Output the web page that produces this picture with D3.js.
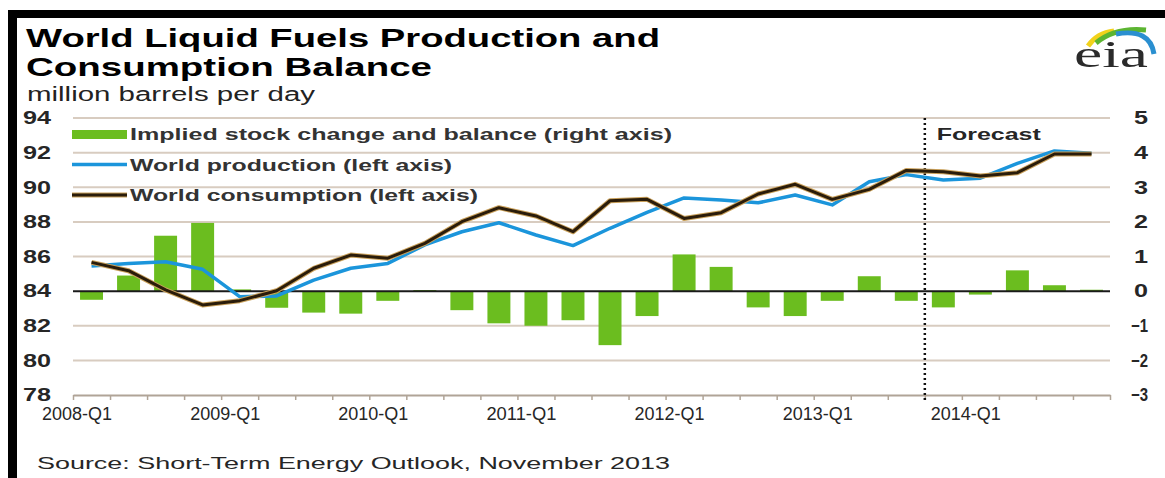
<!DOCTYPE html>
<html lang="en">
<head>
  <meta charset="UTF-8">
  <title>World Liquid Fuels Production and Consumption Balance</title>
  <style>
    * { margin: 0; padding: 0; box-sizing: border-box; }
    body { background: #fff; width: 1165px; height: 478px; overflow: hidden; }
    svg { display: block; font-family: "Liberation Sans", Arial, sans-serif; }
  </style>
  <script src="https://cdnjs.cloudflare.com/ajax/libs/d3/7.8.5/d3.min.js"></script>
</head>
<body>
  <svg id="chart" width="1165" height="478"></svg>

  <script>
    // quarters 2008-Q1 .. 2014-Q4
    const quarters = [
      '2008-Q1', '2008-Q2', '2008-Q3', '2008-Q4',
      '2009-Q1', '2009-Q2', '2009-Q3', '2009-Q4',
      '2010-Q1', '2010-Q2', '2010-Q3', '2010-Q4',
      '2011-Q1', '2011-Q2', '2011-Q3', '2011-Q4',
      '2012-Q1', '2012-Q2', '2012-Q3', '2012-Q4',
      '2013-Q1', '2013-Q2', '2013-Q3', '2013-Q4',
      '2014-Q1', '2014-Q2', '2014-Q3', '2014-Q4'
    ];

    // million barrels per day (left axis)
    const production = [
      85.45, 85.6, 85.7, 85.26,
      83.68, 83.72, 84.64, 85.32,
      85.6, 86.67, 87.43, 87.95,
      87.24, 86.63, 87.63, 88.55,
      89.38, 89.27, 89.1, 89.55,
      88.98, 90.32, 90.73, 90.42,
      90.52, 91.38, 92.1, 91.96
    ];
    const consumption = [
      85.66, 85.18, 84.07, 83.2,
      83.45, 84.02, 85.32, 86.08,
      85.9, 86.76, 88.01, 88.82,
      88.34, 87.43, 89.22, 89.3,
      88.2, 88.53, 89.61, 90.17,
      89.3, 89.88, 90.97, 90.9,
      90.65, 90.84, 91.92, 91.92
    ];
    // implied stock change and balance (right axis)
    const balance = [
      -0.25, 0.45, 1.6, 1.97,
      0.05, -0.48, -0.62, -0.65,
      -0.28, 0.03, -0.55, -0.93,
      -1.0, -0.84, -1.56, -0.72,
      1.06, 0.7, -0.47, -0.72,
      -0.28, 0.43, -0.28, -0.47,
      -0.1, 0.6, 0.17, 0.04
    ];

    const leftTicks = [78, 80, 82, 84, 86, 88, 90, 92, 94];
    const rightTicks = [-3, -2, -1, 0, 1, 2, 3, 4, 5];
    const xLabels = ['2008-Q1', '2009-Q1', '2010-Q1', '2011-Q1', '2012-Q1', '2013-Q1', '2014-Q1'];
    const forecastStart = '2013-Q4';

    const legendItems = [
      { name: 'Implied stock change and balance (right axis)', type: 'bar', len: 542 },
      { name: 'World production (left axis)', type: 'prod', len: 322 },
      { name: 'World consumption (left axis)', type: 'cons', len: 348 }
    ];

    const colors = {
      bar: '#6bbd1f',
      prod: '#1b95db',
      cons: '#2a1c0a',
      consEdge: '#c9a05a',
      grid: '#d8ccc0',
      axis: '#b0a497',
      text: '#262626'
    };

    const plot = { left: 73, right: 1110, top: 118, bottom: 395 };

    const svg = d3.select('#chart');

    // black frame bits
    svg.append('rect').attr('x', 8).attr('y', 10).attr('width', 1157).attr('height', 8).attr('fill', '#000');
    svg.append('rect').attr('x', 8).attr('y', 10).attr('width', 9).attr('height', 468).attr('fill', '#000');

    // scales
    const x = d3.scaleBand()
      .domain(quarters)
      .range([plot.left, plot.right])
      .paddingInner(0.38)
      .paddingOuter(0.19);

    const xi = d3.scaleLinear()
      .domain([0, quarters.length])
      .range([plot.left, plot.right]);

    const yL = d3.scaleLinear().domain([78, 94]).range([plot.bottom, plot.top]);
    const yR = d3.scaleLinear().domain([-3, 5]).range([plot.bottom, plot.top]);

    const cx = q => x(q) + x.bandwidth() / 2;

    // title
    const title = svg.append('g').attr('fill', '#000').style('font-weight', 'bold');
    title.append('text').attr('x', 26).attr('y', 47).style('font-size', '25px')
      .attr('textLength', 634).attr('lengthAdjust', 'spacingAndGlyphs')
      .text('World Liquid Fuels Production and');
    title.append('text').attr('x', 26).attr('y', 76).style('font-size', '25px')
      .attr('textLength', 406).attr('lengthAdjust', 'spacingAndGlyphs')
      .text('Consumption Balance');
    svg.append('text').attr('x', 27).attr('y', 101).style('font-size', '20px').attr('fill', '#222')
      .attr('textLength', 288).attr('lengthAdjust', 'spacingAndGlyphs')
      .text('million barrels per day');

    // eia logo
    const logo = svg.append('g');
    logo.append('path').attr('d', 'M1088,46 Q1097,33 1114,31').attr('stroke', '#f2d21b').attr('stroke-width', 5).attr('fill', 'none');
    logo.append('path').attr('d', 'M1096,43 Q1115,27 1146,30').attr('stroke', '#5cb531').attr('stroke-width', 5).attr('fill', 'none');
    logo.append('path').attr('d', 'M1116,34 Q1150,28 1154,54').attr('stroke', '#2a8fd0').attr('stroke-width', 5).attr('fill', 'none');
    logo.append('text').attr('x', 1074).attr('y', 67).style('font-family', '"Liberation Serif", "DejaVu Serif", serif')
      .style('font-size', '38px').attr('fill', '#2a2a2a')
      .attr('textLength', 74).attr('lengthAdjust', 'spacingAndGlyphs')
      .text('eia');

    // gridlines
    svg.append('g')
      .selectAll('line')
      .data(leftTicks.filter(t => t !== 78 && t !== 84))
      .join('line')
      .attr('x1', plot.left).attr('x2', plot.right)
      .attr('y1', d => yL(d)).attr('y2', d => yL(d))
      .attr('stroke', colors.grid).attr('stroke-width', 2);

    // x axis
    const xAxis = svg.append('g')
      .attr('transform', `translate(0,${plot.bottom})`)
      .call(d3.axisBottom(xi).tickValues(d3.range(quarters.length + 1)).tickFormat('').tickSize(5).tickSizeOuter(0));
    xAxis.select('.domain').attr('stroke', colors.axis).attr('stroke-width', 2);
    xAxis.selectAll('.tick line').attr('stroke', colors.axis).attr('stroke-width', 1.5);

    svg.append('g')
      .selectAll('text')
      .data(xLabels)
      .join('text')
      .attr('x', d => xi(quarters.indexOf(d)) + 4)
      .attr('y', 420)
      .attr('text-anchor', 'middle')
      .attr('textLength', 70).attr('lengthAdjust', 'spacingAndGlyphs')
      .style('font-size', '18px')
      .attr('fill', colors.text)
      .text(d => d);

    // left axis labels
    const leftAxis = svg.append('g')
      .attr('transform', 'translate(51,0)')
      .call(d3.axisLeft(yL).tickValues(leftTicks).tickSize(0).tickPadding(0));
    leftAxis.select('.domain').remove();
    leftAxis.selectAll('text')
      .style('font-size', '18px').style('font-weight', 'bold')
      .style('font-family', '"Liberation Sans", Arial, sans-serif')
      .attr('fill', colors.text)
      .attr('textLength', 28).attr('lengthAdjust', 'spacingAndGlyphs');

    // right axis labels
    const rightAxis = svg.append('g')
      .attr('transform', 'translate(1148,0)')
      .call(d3.axisLeft(yR).tickValues(rightTicks).tickSize(0).tickPadding(0));
    rightAxis.select('.domain').remove();
    rightAxis.selectAll('text')
      .style('font-size', '18px').style('font-weight', 'bold')
      .style('font-family', '"Liberation Sans", Arial, sans-serif')
      .attr('fill', colors.text)
      .attr('textLength', d => d < 0 ? 17 : 14).attr('lengthAdjust', 'spacingAndGlyphs');

    // bars
    svg.append('g')
      .selectAll('rect')
      .data(quarters)
      .join('rect')
      .attr('x', d => x(d))
      .attr('width', x.bandwidth())
      .attr('y', (d, i) => yR(Math.max(0, balance[i])))
      .attr('height', (d, i) => Math.abs(yR(balance[i]) - yR(0)))
      .attr('fill', colors.bar);

    // zero line
    svg.append('line')
      .attr('x1', plot.left).attr('x2', plot.right)
      .attr('y1', yR(0)).attr('y2', yR(0))
      .attr('stroke', '#1a1a1a').attr('stroke-width', 2);

    // forecast marker
    const fx = xi(quarters.indexOf(forecastStart));
    svg.append('line')
      .attr('x1', fx).attr('x2', fx)
      .attr('y1', plot.top).attr('y2', plot.bottom + 7)
      .attr('stroke', '#111').attr('stroke-width', 2.5)
      .attr('stroke-dasharray', '2,3');
    svg.append('text').attr('x', fx + 12).attr('y', 140)
      .style('font-size', '17px').style('font-weight', 'bold').attr('fill', colors.text)
      .attr('textLength', 104).attr('lengthAdjust', 'spacingAndGlyphs')
      .text('Forecast');

    // lines
    const lineGen = values => d3.line()
      .x((d, i) => cx(quarters[i]))
      .y(d => yL(d))(values);

    svg.append('path').attr('d', lineGen(production))
      .attr('fill', 'none').attr('stroke', colors.prod).attr('stroke-width', 3.5)
      .attr('stroke-linejoin', 'round');
    svg.append('path').attr('d', lineGen(consumption))
      .attr('fill', 'none').attr('stroke', colors.consEdge).attr('stroke-width', 5)
      .attr('stroke-linejoin', 'round');
    svg.append('path').attr('d', lineGen(consumption))
      .attr('fill', 'none').attr('stroke', colors.cons).attr('stroke-width', 3)
      .attr('stroke-linejoin', 'round');

    // legend
    const legend = svg.append('g');
    legendItems.forEach((item, i) => {
      const ly = 134 + i * 30.5;
      if (item.type === 'bar') {
        legend.append('rect').attr('x', 72).attr('y', ly - 4).attr('width', 55).attr('height', 9).attr('fill', colors.bar);
      } else if (item.type === 'prod') {
        legend.append('line').attr('x1', 72).attr('x2', 127).attr('y1', ly).attr('y2', ly)
          .attr('stroke', colors.prod).attr('stroke-width', 3.5);
      } else {
        legend.append('line').attr('x1', 72).attr('x2', 127).attr('y1', ly).attr('y2', ly)
          .attr('stroke', colors.consEdge).attr('stroke-width', 5);
        legend.append('line').attr('x1', 72).attr('x2', 127).attr('y1', ly).attr('y2', ly)
          .attr('stroke', colors.cons).attr('stroke-width', 3);
      }
      legend.append('text').attr('x', 130).attr('y', ly + 6)
        .style('font-size', '17px').style('font-weight', 'bold').attr('fill', '#333')
        .attr('textLength', item.len).attr('lengthAdjust', 'spacingAndGlyphs')
        .text(item.name);
    });

    // source
    svg.append('text').attr('x', 37).attr('y', 469)
      .style('font-size', '17px').attr('fill', colors.text)
      .attr('textLength', 633).attr('lengthAdjust', 'spacingAndGlyphs')
      .text('Source: Short-Term Energy Outlook, November 2013');
  </script>
</body>
</html>
